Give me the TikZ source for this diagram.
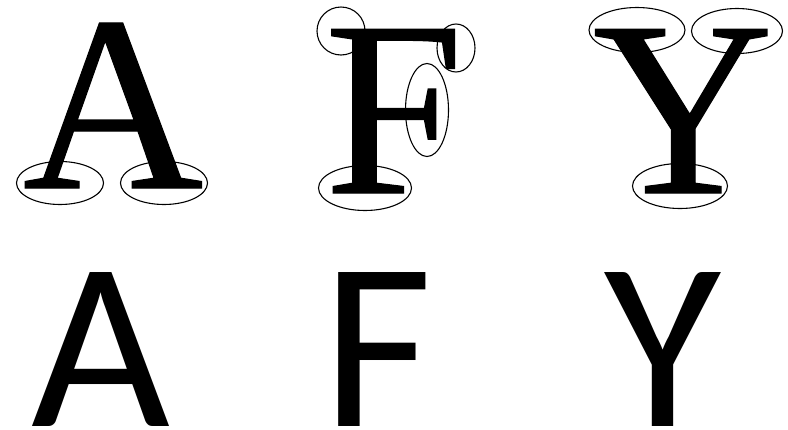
\documentclass[tikz,border=0pt]{standalone}
\usepackage{fontspec}
\usepackage{tikz}
\newfontfamily\serifletters[FakeBold=0.5]{Liberation Serif}
\newfontfamily\sansletters{Carlito}

\begin{document}
\begin{tikzpicture}[
  x=1pt, y=-1pt,
  serifglyph/.style={anchor=base, inner sep=0pt, font=\serifletters\fontsize{250}{250}\selectfont},
  sansglyph/.style={anchor=base, inner sep=0pt, font=\sansletters\fontsize{240}{240}\selectfont},
  serifmark/.style={draw=black, line width=1.1pt}
]
\useasboundingbox (0,0) rectangle (788,429);

\node[serifglyph] (serifA) at (113,188) {A};
\node[serifglyph] (serifF) at (394,193) {F};
\node[serifglyph] (serifY) at (683,193) {Y};

\node[sansglyph] (sansA) at (101,426) {A};
\node[sansglyph] (sansF) at (378,426) {F};
\node[sansglyph] (sansY) at (663,426) {Y};

\draw[serifmark] (60,183) ellipse (43.5pt and 21.5pt);
\draw[serifmark] (164,183) ellipse (43.5pt and 21.5pt);

\draw[serifmark] (341,31) ellipse (24pt and 24pt);
\draw[serifmark] (456,48) ellipse (19pt and 24pt);
\draw[serifmark] (427,110) ellipse (21.5pt and 46.5pt);
\draw[serifmark] (365,188) ellipse (46.5pt and 22.5pt);

\draw[serifmark] (637,30) ellipse (48pt and 22.5pt);
\draw[serifmark] (737,31) ellipse (45.5pt and 22.5pt);
\draw[serifmark] (680,186) ellipse (47.5pt and 22.5pt);
\end{tikzpicture}
\end{document}
